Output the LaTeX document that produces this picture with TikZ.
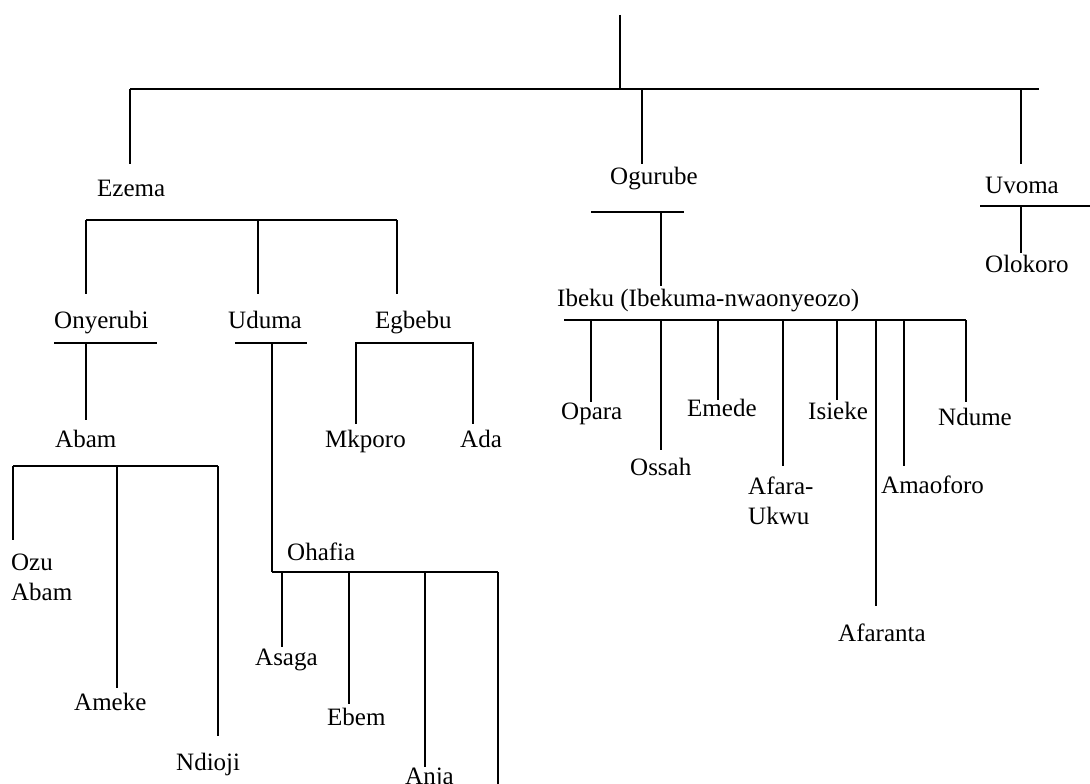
\documentclass[tikz,border=0pt]{standalone}
\usepackage{fontspec}
\setmainfont{Liberation Serif}
\usepackage{tikz}
\usetikzlibrary{calc}
\tikzset{
  nombre/.style={anchor=base west,inner sep=0pt,font=\fontsize{25}{30}\selectfont,align=left},
  rama/.style={draw=black,line width=1.6pt},
}
\begin{document}
\begin{tikzpicture}[x=1pt,y=-1pt]
\useasboundingbox (0,0) rectangle (1090,784);
% nivel superior
\coordinate (raiz) at (620,15);
\coordinate (top-l) at (130,89);
\coordinate (top-r) at (1039,89);
\coordinate (d-ezema) at (130,164);
\coordinate (d-ogurube) at (642,164);
\coordinate (d-uvoma) at (1021,164);
\draw[rama] (raiz) -- (raiz |- top-l);
\draw[rama] (top-l) -- (top-r);
\draw[rama] (top-l) -- (d-ezema);
\draw[rama] (d-ogurube |- top-l) -- (d-ogurube);
\draw[rama] (d-uvoma |- top-l) -- (d-uvoma);
% Ezema
\coordinate (ez-l) at (86,220);
\coordinate (ez-r) at (397,220);
\coordinate (d-onyerubi) at (86,294);
\coordinate (d-uduma) at (258,294);
\coordinate (d-egbebu) at (397,294);
\draw[rama] (ez-l) -- (ez-r);
\draw[rama] (ez-l) -- (d-onyerubi);
\draw[rama] (d-uduma |- ez-l) -- (d-uduma);
\draw[rama] (ez-r) -- (d-egbebu);
% Onyerubi
\coordinate (on-l) at (54,343);
\coordinate (on-r) at (157,343);
\coordinate (d-abam) at (86,420);
\draw[rama] (on-l) -- (on-r);
\draw[rama] (d-abam |- on-l) -- (d-abam);
% Abam
\coordinate (ab-l) at (13,466);
\coordinate (ab-r) at (218,466);
\coordinate (d-ozu) at (13,540);
\coordinate (d-ameke) at (117,688);
\coordinate (d-ndioji) at (218,736);
\draw[rama] (ab-l) -- (ab-r);
\draw[rama] (ab-l) -- (d-ozu);
\draw[rama] (d-ameke |- ab-l) -- (d-ameke);
\draw[rama] (ab-r) -- (d-ndioji);
% Uduma
\coordinate (ud-l) at (235,343);
\coordinate (ud-r) at (307,343);
\coordinate (oh-l) at (272,572);
\coordinate (oh-r) at (498,572);
\draw[rama] (ud-l) -- (ud-r);
\draw[rama] (oh-l |- ud-l) -- (oh-l);
% Ohafia
\coordinate (d-asaga) at (282,647);
\coordinate (d-ebem) at (349,704);
\coordinate (d-anja) at (425,767);
\coordinate (d-ohafia4) at (498,790);
\draw[rama] (oh-l) -- (oh-r);
\draw[rama] (d-asaga |- oh-l) -- (d-asaga);
\draw[rama] (d-ebem |- oh-l) -- (d-ebem);
\draw[rama] (d-anja |- oh-l) -- (d-anja);
\draw[rama] (oh-r) -- (d-ohafia4);
% Egbebu
\coordinate (eg-l) at (356,343);
\coordinate (eg-r) at (473,343);
\coordinate (d-mkporo) at (356,424);
\coordinate (d-ada) at (473,424);
\draw[rama] (d-mkporo) -- (eg-l) -- (eg-r) -- (d-ada);
% Ogurube
\coordinate (og-l) at (591,212);
\coordinate (og-r) at (684,212);
\coordinate (d-ibeku) at (661,286);
\draw[rama] (og-l) -- (og-r);
\draw[rama] (d-ibeku |- og-l) -- (d-ibeku);
% Ibeku
\coordinate (ib-l) at (564,320);
\coordinate (ib-r) at (966,320);
\coordinate (d-opara) at (591,402);
\coordinate (d-ossah) at (661,450);
\coordinate (d-emede) at (718,400);
\coordinate (d-afara) at (783,466);
\coordinate (d-isieke) at (837,400);
\coordinate (d-afaranta) at (876,606);
\coordinate (d-amaoforo) at (904,466);
\coordinate (d-ndume) at (966,402);
\draw[rama] (ib-l) -- (ib-r);
\foreach \h in {opara,ossah,emede,afara,isieke,afaranta,amaoforo,ndume}
  \draw[rama] (d-\h |- ib-l) -- (d-\h);
% Uvoma
\coordinate (uv-l) at (980,206);
\coordinate (uv-r) at (1092,206);
\coordinate (d-olokoro) at (1021,253);
\draw[rama] (uv-l) -- (uv-r);
\draw[rama] (d-olokoro |- uv-l) -- (d-olokoro);
% nombres
\node[nombre] (ezema) at (97,196) {Ezema};
\node[nombre] (ogurube) at (610,184) {Ogurube};
\node[nombre] (uvoma) at (985,193) {Uvoma};
\node[nombre] (olokoro) at (985,272) {Olokoro};
\node[nombre] (onyerubi) at (54,328) {Onyerubi};
\node[nombre] (uduma) at (228,328) {Uduma};
\node[nombre] (egbebu) at (375,328) {Egbebu};
\node[nombre] (abam) at (55,447) {Abam};
\node[nombre] (mkporo) at (325,447) {Mkporo};
\node[nombre] (ada) at (460,447) {Ada};
\node[nombre] (ozu) at (11,600) {Ozu\\Abam};
\node[nombre] (ameke) at (74,710) {Ameke};
\node[nombre] (ndioji) at (176,770) {Ndioji};
\node[nombre] (ohafia) at (287,560) {Ohafia};
\node[nombre] (asaga) at (255,665) {Asaga};
\node[nombre] (ebem) at (327,725) {Ebem};
\node[nombre] (anja) at (405,784) {Anja};
\node[nombre] (ibeku) at (557,306) {Ibeku (Ibekuma-nwaonyeozo)};
\node[nombre] (opara) at (561,419) {Opara};
\node[nombre] (ossah) at (630,475) {Ossah};
\node[nombre] (emede) at (687,416) {Emede};
\node[nombre] (afara) at (748,524) {Afara-\\Ukwu};
\node[nombre] (isieke) at (808,419) {Isieke};
\node[nombre] (afaranta) at (838,641) {Afaranta};
\node[nombre] (amaoforo) at (881,493) {Amaoforo};
\node[nombre] (ndume) at (938,425) {Ndume};
\end{tikzpicture}
\end{document}
